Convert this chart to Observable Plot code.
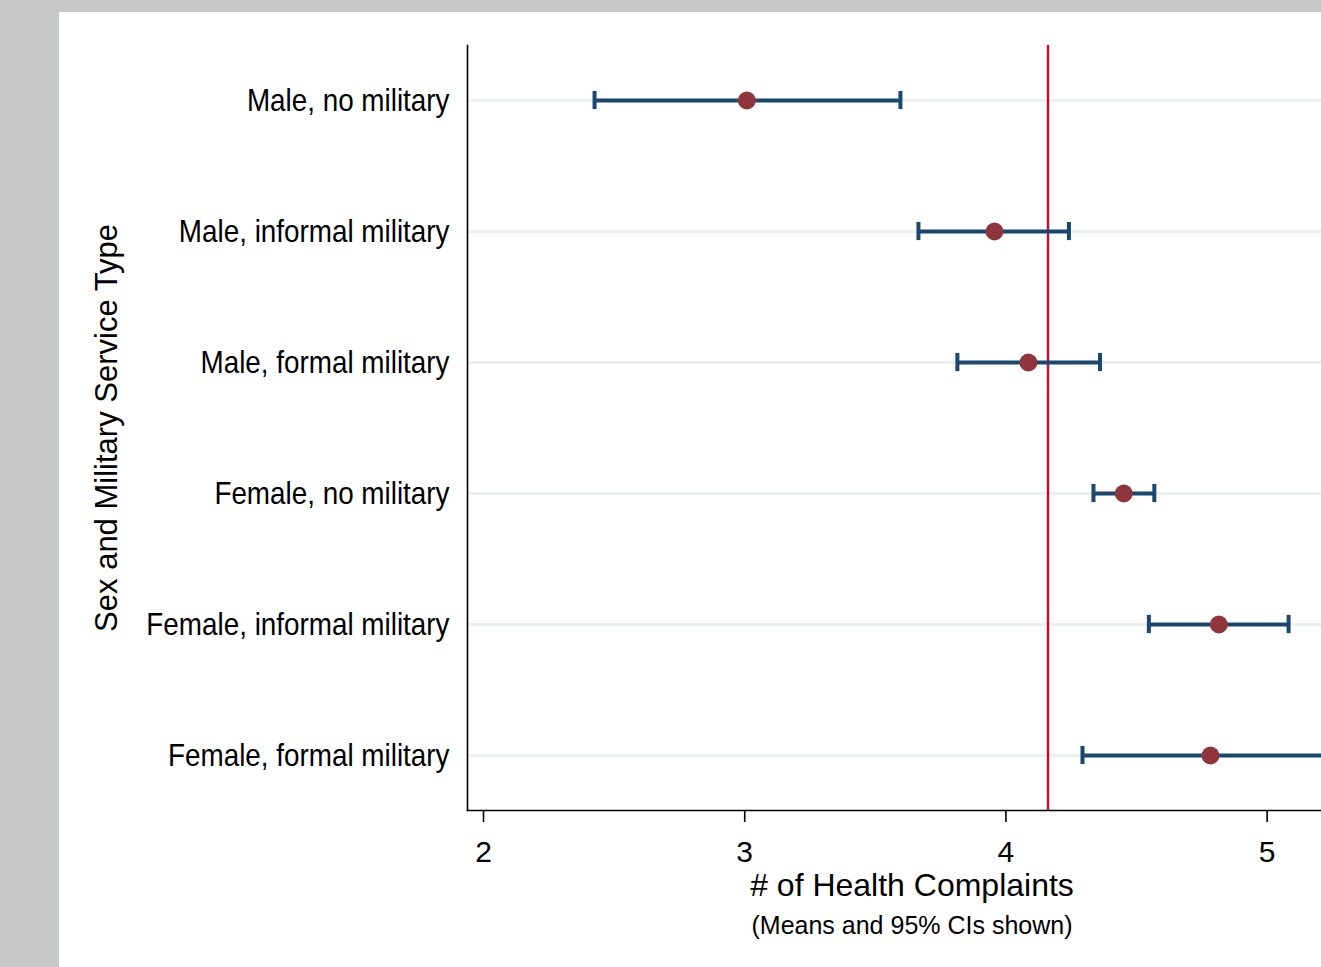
<!DOCTYPE html>
<html><head><meta charset="utf-8">
<script src="https://cdn.jsdelivr.net/npm/d3@7"></script>
<script src="https://cdn.jsdelivr.net/npm/@observablehq/plot@0.6"></script>
<style>
html,body{margin:0;padding:0;}
body{width:1321px;height:967px;background:#c6c7c9;position:relative;overflow:hidden;font-family:"Liberation Sans",Arial,sans-serif;}
#panel{position:absolute;left:59px;top:12px;width:1262px;height:955px;background:#fff;overflow:hidden;}
#chart{position:absolute;left:0;top:0;}
.t{position:absolute;white-space:nowrap;color:#000;}
#xtitle{left:853px;top:857px;transform:translateX(-50%);font-size:32px;line-height:32px;}
#xsub{left:853px;top:901px;transform:translateX(-50%);font-size:25px;line-height:25px;}
#ytitle{left:47px;top:416px;transform:translate(-50%,-50%) rotate(-90deg);font-size:31px;line-height:31px;}
</style>
</head><body>
<div id="panel">
  <div id="chart"></div>
  <div class="t" id="xtitle"># of Health Complaints</div>
  <div class="t" id="xsub">(Means and 95% CIs shown)</div>
  <div class="t" id="ytitle">Sex and Military Service Type</div>
</div>
<script>
const categories = ["Male, no military", "Male, informal military", "Male, formal military", "Female, no military", "Female, informal military", "Female, formal military"];
const means = [2.989, 3.937, 4.067, 4.432, 4.796, 4.764];
const lower = [2.406, 3.646, 3.795, 4.316, 4.528, 4.274];
const upper = [3.577, 4.222, 4.341, 4.549, 5.063, 5.25];
const overallMean = [4.142];
const xTicks = [2, 3, 4, 5];
const xDomain = [1.9196, 5.189];

const data = categories.map((c, i) => ({cat: c, mean: means[i], lo: lower[i], hi: upper[i]}));

const navy = "#1a476f";
const maroon = "#90353b";

const chart = Plot.plot({
  width: 1262,
  height: 955,
  marginLeft: 408,
  marginRight: 0,
  marginTop: 33,
  marginBottom: 157,
  style: {background: "transparent", overflow: "visible"},
  x: {domain: xDomain},
  y: {type: "band", domain: categories, paddingInner: 0.5, paddingOuter: 0.161},
  marks: [
    Plot.ruleY(categories, {y: d => d, stroke: "#eaf0f1", strokeWidth: 3}),
    Plot.ruleX(overallMean, {stroke: "#c8102e", strokeWidth: 2.5}),
    Plot.ruleY(data, {y: "cat", x1: "lo", x2: "hi", stroke: navy, strokeWidth: 4, clip: true}),
    Plot.tickX(data, {x: "lo", y: "cat", stroke: navy, strokeWidth: 4, insetTop: 23.9, insetBottom: 23.9, clip: true}),
    Plot.tickX(data, {x: "hi", y: "cat", stroke: navy, strokeWidth: 4, insetTop: 23.9, insetBottom: 23.9, clip: true}),
    Plot.dot(data, {x: "mean", y: "cat", r: 9, fill: maroon, stroke: "none"}),
    Plot.frame({anchor: "left", stroke: "#000", strokeWidth: 1.6}),
    Plot.frame({anchor: "bottom", stroke: "#000", strokeWidth: 1.6}),
    Plot.axisX(xTicks, {tickSize: 12, tickPadding: 18, fontSize: 30, dx: -5, fontFamily: "Liberation Sans, Arial, sans-serif", fill: "#000", stroke: "#000", strokeWidth: 1.6, label: null, tickFormat: d => String(d)}),
    Plot.axisY({tickSize: 0, tickPadding: 18, fontSize: 32, fontFamily: "Liberation Sans, Arial, sans-serif", fill: "#000", label: null})
  ]
});
// condense the category labels horizontally (narrow typeface look)
d3.select(chart).selectAll('g[aria-label="y-axis tick label"] text').each(function() {
  const t = d3.select(this);
  const tr = t.attr("transform");
  if (tr) t.attr("transform", tr + " scale(0.87,1)");
  else {
    const x = +t.attr("x") || 0;
    t.attr("transform", `translate(${x * (1 - 0.87)},0) scale(0.87,1)`);
  }
});
document.getElementById("chart").appendChild(chart);
</script>
</body></html>
